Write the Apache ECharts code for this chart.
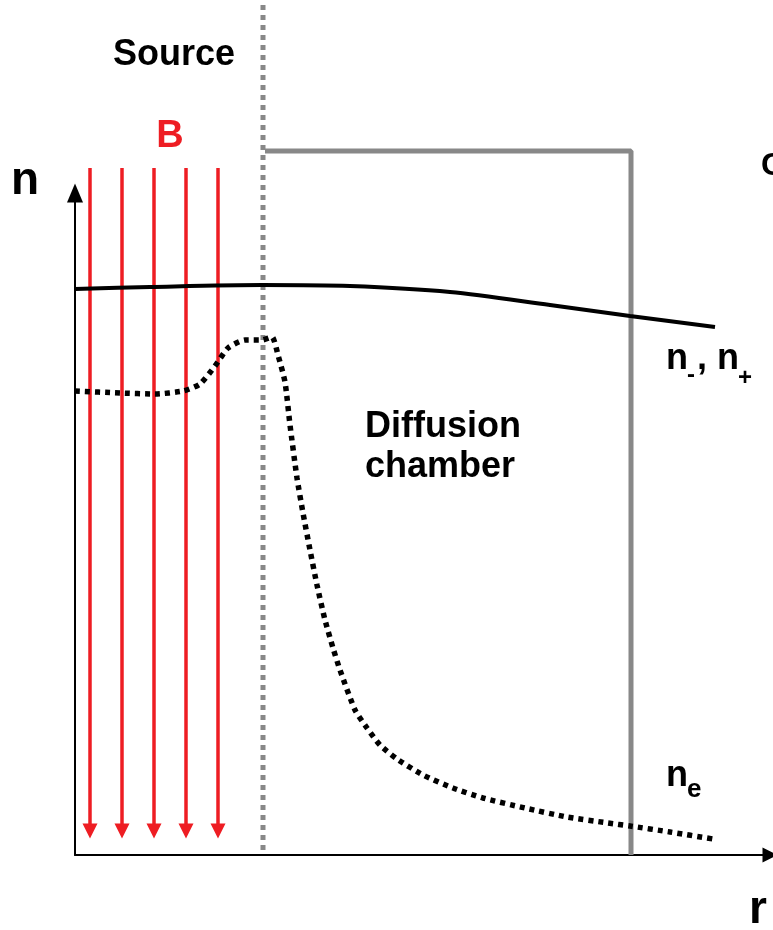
<!DOCTYPE html>
<html>
<head>
<meta charset="utf-8">
<script src="https://cdn.jsdelivr.net/npm/echarts@6/dist/echarts.min.js"></script>
<style>
  html, body { margin: 0; padding: 0; background: #fff; }
  #chart { width: 773px; height: 930px; }
</style>
</head>
<body>
<div id="chart"></div>
<script>
// values, r to the right and n upwards from the axis corner
const ionR = [0, 75, 187, 275, 375, 475, 555, 640]
const ionN = [566, 568, 570, 569, 563, 550, 539, 528]

const elecR = [0, 45, 80, 108, 125, 140, 153, 170, 187, 197, 203, 210, 215, 222, 228, 235, 242, 250, 258, 265,
  280, 292, 305, 322, 348, 378, 408, 450, 492, 533, 555, 595, 638]
const elecN = [464, 462, 461, 464, 471, 489, 507, 515, 515, 518, 500, 473, 430, 377, 342, 305, 270, 235, 207, 185,
  145, 127, 110, 96, 80, 67, 57, 47, 38, 32, 29, 23, 16]

// magnetic field lines in the source
const fieldR = [15, 47, 79, 111, 143]
const fieldTop = 687
const fieldBottom = 24

// source edge and chamber wall
const sourceEdgeR = 188
const sourceEdgeN = [850, 0]
const wallR = [190, 556, 556]
const wallN = [704, 704, 0]

const labelTexts = ["Source", "B", "n", "r", "Diffusion\nchamber", "n", "-", ", n", "+", "n", "e", "C"]

const chart = echarts.init(document.getElementById("chart"))

const font = "Liberation Sans, Arial, sans-serif"
const txt = (size, color) => ({ fontSize: size, fontWeight: "bold", color: color || "#000", fontFamily: font })

// where each label sits: [r, n, align, style]
const labelPlaces = [
  [99, 800, "center", txt(36)],
  [95, 718, "center", txt(38, "#ee1d23")],
  [-50, 674, "center", txt(46)],
  [683, -55, "center", txt(46)],
  [290, 408, "left", Object.assign(txt(36), { lineHeight: 40 })],
  [591, 496, "left", txt(36)],
  [612, 480, "left", txt(24)],
  [622, 496, "left", txt(36)],
  [663, 477, "left", txt(24)],
  [591, 79, "left", txt(36)],
  [612, 65, "left", txt(26)],
  [686, 689, "left", txt(32)],
]

const labelData = labelTexts.map((t, i) => {
  const p = labelPlaces[i]
  return {
    value: [p[0], p[1]],
    label: Object.assign({ show: true, position: "inside", formatter: t, align: p[2], verticalAlign: "middle" }, p[3]),
  }
})

const option = {
  animation: false,
  backgroundColor: "#fff",
  grid: { left: 75, right: 3, top: 193, bottom: 75 },
  xAxis: {
    type: "value",
    min: 0,
    max: 695,
    axisLine: {
      show: true,
      symbol: ["none", "triangle"],
      symbolSize: [15, 15],
      lineStyle: { color: "#000", width: 2 },
    },
    axisTick: { show: false },
    axisLabel: { show: false },
    splitLine: { show: false },
  },
  yAxis: {
    type: "value",
    min: 0,
    max: 662,
    axisLine: {
      show: true,
      symbol: ["none", "triangle"],
      symbolSize: [16, 19],
      lineStyle: { color: "#000", width: 2 },
    },
    axisTick: { show: false },
    axisLabel: { show: false },
    splitLine: { show: false },
  },
  series: [
    {
      name: "wall",
      type: "line",
      clip: false,
      symbol: "none",
      data: wallR.map((r, i) => [r, wallN[i]]),
      lineStyle: { color: "#888", width: 5 },
    },
    {
      name: "source edge",
      type: "line",
      clip: false,
      symbol: "none",
      data: sourceEdgeN.map((n) => [sourceEdgeR, n]),
      lineStyle: { color: "#888", width: 5, type: [5, 5], cap: "butt" },
    },
    {
      name: "n-, n+",
      type: "line",
      clip: false,
      symbol: "none",
      smooth: 0.3,
      data: ionR.map((r, i) => [r, ionN[i]]),
      lineStyle: { color: "#000", width: 4 },
    },
    {
      name: "ne",
      type: "line",
      clip: false,
      symbol: "none",
      smooth: 0.2,
      data: elecR.map((r, i) => [r, elecN[i]]),
      lineStyle: { color: "#000", width: 5.5, type: [5, 5], cap: "butt" },
    },
    {
      name: "B",
      type: "lines",
      coordinateSystem: "cartesian2d",
      clip: false,
      symbol: ["none", "triangle"],
      symbolSize: [16, 15],
      data: fieldR.map((r) => ({ coords: [[r, fieldTop], [r, fieldBottom]] })),
      lineStyle: { color: "#ee1d23", width: 3.5, opacity: 1 },
    },
    {
      name: "labels",
      type: "scatter",
      clip: false,
      symbolSize: 0,
      itemStyle: { opacity: 1 },
      data: labelData,
    },
  ],
}

chart.setOption(option)
</script>
</body>
</html>
